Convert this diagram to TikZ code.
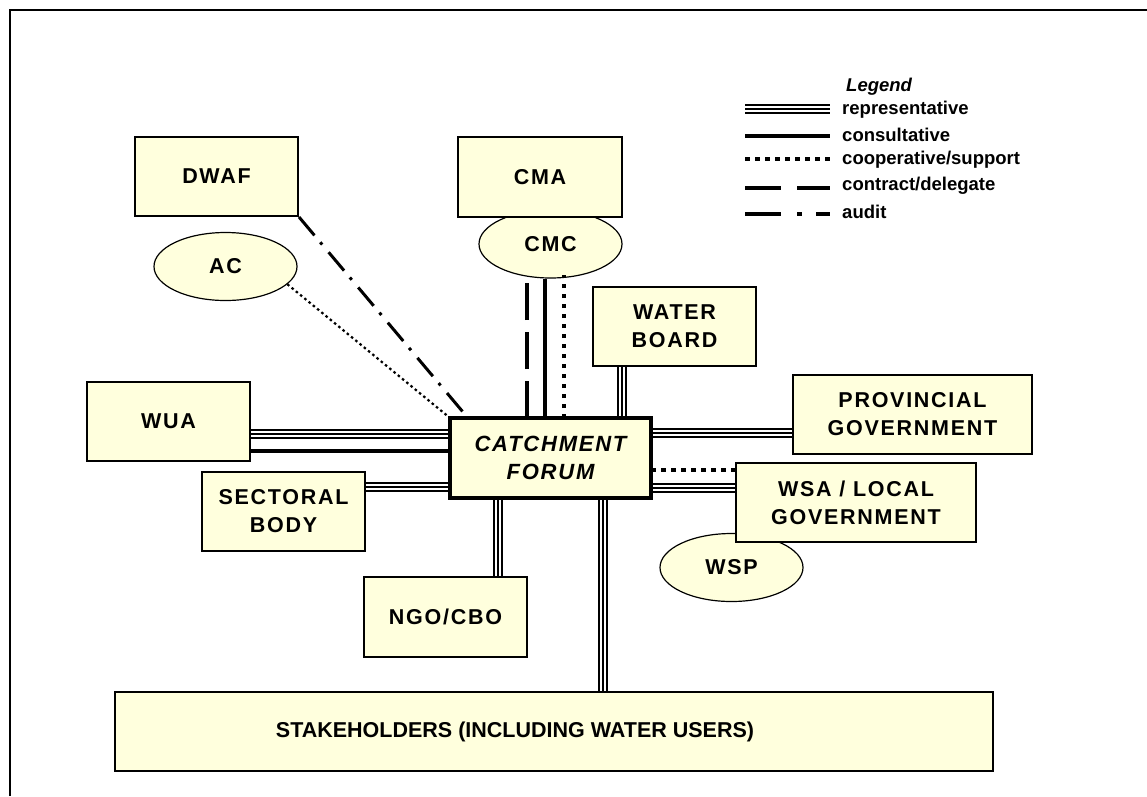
\documentclass[tikz,border=0pt]{standalone}
\usepackage{fontspec}
\setmainfont{Liberation Sans}
\newfontfamily\boxfont{Liberation Sans}[LetterSpace=8]
\newfontfamily\legfont{Liberation Sans}
\usetikzlibrary{shapes.geometric}
\definecolor{boxfill}{RGB}{255,255,221}
\begin{document}
\begin{tikzpicture}[x=1pt,y=-1pt,
  box/.style={draw=black, line width=2pt, fill=boxfill, inner sep=0pt,
    align=center, font=\boxfont\fontsize{21.5}{28}\selectfont\bfseries},
  oval/.style={ellipse, draw=black, line width=1.2pt, fill=boxfill, inner sep=0pt,
    minimum width=143pt, minimum height=68pt,
    font=\boxfont\fontsize{21.5}{28}\selectfont\bfseries},
  rep/.style={draw=black, line width=10pt,
    postaction={draw=white, line width=5.2pt},
    postaction={draw=black, line width=1.6pt}},
  consult/.style={draw=black, line width=4pt},
  coop/.style={draw=black, line width=4pt, dash pattern=on 4.5pt off 5.5pt},
  contract/.style={draw=black, line width=4pt, dash pattern=on 37pt off 12pt},
  audit/.style={draw=black, line width=3pt, dash pattern=on 24pt off 9pt on 3pt off 10pt},
  support/.style={draw=black, line width=2.2pt, dash pattern=on 2.5pt off 3pt},
  legtext/.style={anchor=west, inner sep=0pt, font=\legfont\fontsize{18.5}{22}\selectfont\bfseries}]

\useasboundingbox (0,0) rectangle (1147,796);

% outer frame
\draw[line width=2pt] (10,796) -- (10,10) -- (1147,10);

% ovals sit behind the boxes they belong to
\node[oval] (cmc) at (550.5,244) {CMC};
\node[oval] (ac)  at (225.5,266.5) {AC};
\node[oval] (wsp) at (731.5,567.5) {WSP};

% organisations
\node[box, minimum width=163pt, minimum height=79pt] (dwaf) at (216.5,176.5) {DWAF};
\node[box, minimum width=164pt, minimum height=80pt] (cma)  at (540,177) {CMA};
\node[box, minimum width=163pt, minimum height=79pt] (wb)   at (674.5,326.5) {WATER\\BOARD};
\node[box, minimum width=163pt, minimum height=79pt] (wua)  at (168.5,421.5) {WUA};
\node[box, minimum width=239pt, minimum height=79pt] (prov) at (912.5,414.5) {PROVINCIAL\\GOVERNMENT};
\node[box, minimum width=163pt, minimum height=79pt] (sect) at (283.5,511.5) {SECTORAL\\BODY};
\node[box, minimum width=240pt, minimum height=79pt] (wsa)  at (856,502.5) {WSA / LOCAL\\GOVERNMENT};
\node[box, minimum width=163pt, minimum height=80pt] (ngo)  at (445.5,617) {NGO/CBO};
\node[box, minimum width=878pt, minimum height=79pt] (stake) at (554,731.5) {};
\node[inner sep=0pt, font=\legfont\fontsize{21.5}{28}\selectfont\bfseries]
  (staketext) at (515,731.5) {STAKEHOLDERS (INCLUDING WATER USERS)};

% connectors into the forum
\draw[audit] (dwaf.south east) -- (468,418) coordinate (auditend);
\draw[support] (ac.-16) -- (450,418) coordinate (supportend);
\draw[contract] (527,418) -- ++(0,-135);
\draw[consult] (545,418) -- (cmc.south -| 545,0);
\draw[coop] (564,418) -- (564,275);
\draw[rep] (wb.south -| 622,0) -- (622,418);
\draw[rep] (wua.east |- 0,434) -- (450,434);
\draw[consult] (wua.east |- 0,451) -- (450,451);
\draw[rep] (sect.east |- 0,487) -- (450,487);
\draw[rep] (651,433) -- (prov.west |- 0,433);
\draw[coop] (651,470) -- (wsa.west |- 0,470);
\draw[rep] (651,488) -- (wsa.west |- 0,488);
\draw[rep] (498,498) -- (ngo.north -| 498,0);
\draw[rep] (603,498) -- (stake.north -| 603,0);

% the forum itself
\node[box, line width=3.5pt, minimum width=201pt, minimum height=80pt,
  font=\boxfont\fontsize{22}{28}\selectfont\bfseries\itshape] (forum) at (550.5,458) {CATCHMENT\\FORUM};

% legend
\node[legtext, font=\legfont\fontsize{18.5}{22}\selectfont\bfseries\itshape] (legtitle) at (846,87) {Legend};
\node[legtext] (lrep) at (842,110) {representative};
\node[legtext] (lcon) at (842,135) {consultative};
\node[legtext] (lcoop) at (842,160) {cooperative/support};
\node[legtext] (lctr) at (842,186) {contract/delegate};
\node[legtext] (laud) at (842,212) {audit};
\draw[rep] (745,109) -- (830,109);
\draw[consult] (745,136) -- (830,136);
\draw[coop] (745,159) -- (830,159);
\draw[contract, dash pattern=on 36pt off 16pt] (745,188) -- (830,188);
\draw[audit, line width=4pt, dash pattern=on 36pt off 16pt on 5pt off 14pt] (745,214) -- (830,214);
\end{tikzpicture}
\end{document}
